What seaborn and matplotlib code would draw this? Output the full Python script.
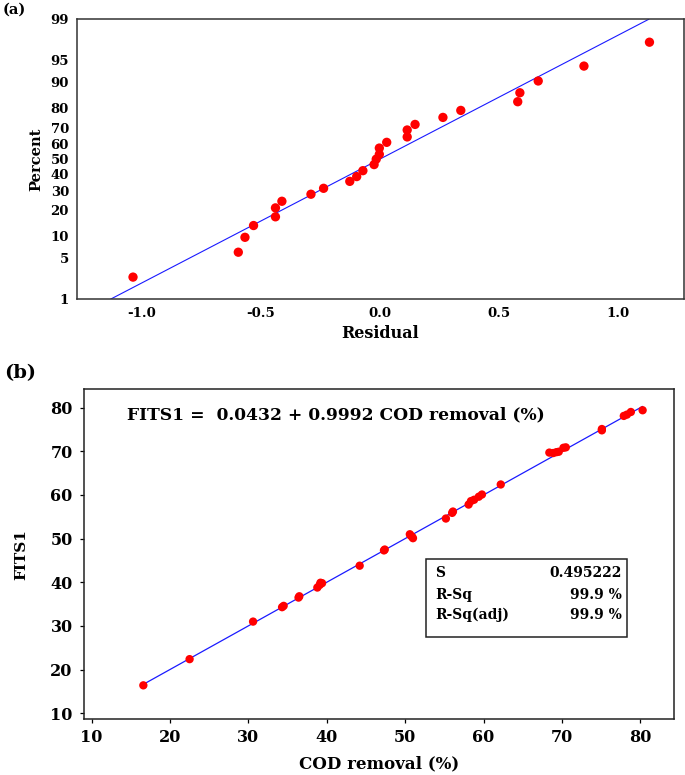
import numpy as np
import pandas as pd
import seaborn as sns
import matplotlib.pyplot as plt
from matplotlib.patches import Rectangle
from statistics import NormalDist

# (a) normal probability plot of residuals
residuals = [-1.036, -0.594, -0.566, -0.530, -0.438, -0.438, -0.411, -0.289, -0.236,
             -0.126, -0.097, -0.071, -0.024, -0.015, -0.002, -0.002, 0.029, 0.115,
             0.115, 0.148, 0.265, 0.340, 0.579, 0.588, 0.665, 0.857, 1.132]
percents = [2.5, 6.1, 9.7, 13.5, 16.9, 20.9, 24.2, 28.0, 31.4, 35.6, 38.6, 42.4,
            46.4, 50.0, 53.2, 57.3, 61.0, 64.4, 68.6, 71.8, 75.6, 79.1, 83.0, 86.5,
            90.3, 93.9, 97.4]
fit_res = [-1.13, 1.13]
fit_pct = [1, 99]
pct_ticks = [1, 5, 10, 20, 30, 40, 50, 60, 70, 80, 90, 95, 99]

# (b) fitted vs observed COD removal
cod = [16.6, 22.5, 30.6, 34.3, 34.5, 36.4, 36.5, 38.8, 39.1, 39.4, 39.2, 44.2,
       47.3, 47.4, 50.6, 50.7, 51.0, 50.9, 55.2, 56.0, 56.1, 58.1, 58.4, 58.8,
       59.4, 59.8, 62.2, 68.4, 68.9, 69.3, 69.6, 70.2, 70.5, 75.1, 75.1, 77.9,
       78.3, 78.8, 80.3]
fits = [16.4, 22.4, 31.0, 34.3, 34.6, 36.5, 36.8, 38.8, 39.4, 39.8, 39.9, 43.8,
        47.3, 47.5, 51.0, 50.7, 50.1, 50.4, 54.6, 55.9, 56.2, 57.8, 58.6, 58.9,
        59.6, 60.1, 62.4, 69.7, 69.6, 69.8, 69.9, 70.8, 70.9, 74.8, 75.1, 78.1,
        78.4, 79.0, 79.4]
intercept = 0.0432
slope = 0.9992
stat_names = ["S", "R-Sq", "R-Sq(adj)"]
stat_values = ["0.495222", "99.9 %", "99.9 %"]

sns.set_theme(style="ticks")
plt.rcParams['font.family'] = ['DejaVu Serif']
plt.rcParams['font.weight'] = 'bold'
for key in ['text.color', 'axes.labelcolor', 'xtick.color', 'ytick.color']:
    plt.rcParams[key] = 'black'

_nd = NormalDist()


def _ppf(v):
    if not np.isfinite(v):
        return np.nan
    v = min(max(v, 1e-6), 100 - 1e-6)
    return _nd.inv_cdf(v / 100.0)


def _cdf(v):
    if not np.isfinite(v):
        return np.nan
    return _nd.cdf(v) * 100.0


# normal probability axis
_fwd = np.vectorize(_ppf, otypes=[float])
_inv = np.vectorize(_cdf, otypes=[float])

fig = plt.figure(figsize=(6.85, 7.75), dpi=100)
ax1 = fig.add_axes([0.1128, 0.614, 0.8854, 0.3613])
ax2 = fig.add_axes([0.1223, 0.0723, 0.8616, 0.4254])

# panel a
ax1.set_yscale('function', functions=(_fwd, _inv))
df_a = pd.DataFrame({"Residual": residuals, "Percent": percents})
sns.lineplot(x=fit_res, y=fit_pct, ax=ax1, color="#1a1aff", linewidth=0.8)
sns.scatterplot(data=df_a, x="Residual", y="Percent", ax=ax1, color="red",
                s=45, edgecolor="none", zorder=3)
ax1.set_xlim(-1.270, 1.276)
ax1.set_ylim(1, 99)
ax1.set_yticks(pct_ticks)
ax1.set_yticklabels([str(t) for t in pct_ticks])
ax1.yaxis.set_minor_locator(plt.NullLocator())
ax1.set_xticks([-1.0, -0.5, 0.0, 0.5, 1.0])
ax1.set_xticklabels(["-1.0", "-0.5", "0.0", "0.5", "1.0"])
ax1.tick_params(labelsize=9.5, length=0, pad=6)
ax1.set_xlabel("Residual", fontsize=11.5, fontweight="bold", labelpad=3)
ax1.set_ylabel("Percent", fontsize=10.5, fontweight="bold", labelpad=5)
for sp in ax1.spines.values():
    sp.set_visible(True)
    sp.set_linewidth(1.1)
    sp.set_color("#333333")
fig.text(0.004, 0.987, "(a)", fontsize=10.5, fontweight="bold", va="center")

# panel b
df_b = pd.DataFrame({"COD removal (%)": cod, "FITS1": fits})
line_x = [min(cod), max(cod)]
line_y = [intercept + slope * v for v in line_x]
sns.lineplot(x=line_x, y=line_y, ax=ax2, color="#1a1aff", linewidth=0.9)
sns.scatterplot(data=df_b, x="COD removal (%)", y="FITS1", ax=ax2, color="red",
                s=36, edgecolor="none", zorder=3)
ax2.set_xlim(9.0, 84.3)
ax2.set_ylim(8.7, 84.2)
ax2.set_xticks(range(10, 81, 10))
ax2.set_yticks(range(10, 81, 10))
ax2.tick_params(labelsize=11.5, length=3, width=0.9, pad=4)
ax2.tick_params(axis="y", pad=5)
ax2.set_xlabel("COD removal (%)", fontsize=12, fontweight="bold", labelpad=7)
ax2.set_ylabel("FITS1", fontsize=11, fontweight="bold", labelpad=16)
for sp in ax2.spines.values():
    sp.set_visible(True)
    sp.set_linewidth(1.1)
    sp.set_color("#222222")
ax2.text(14.5, 78.3, "FITS1 =  0.0432 + 0.9992 COD removal (%)", fontsize=12.3,
         fontweight="bold", va="center", ha="left")
ax2.add_patch(Rectangle((52.65, 27.5), 78.3 - 52.65, 45.3 - 27.5, fill=False,
                        edgecolor="#222222", linewidth=1.1, zorder=4))
for i, (nm, val) in enumerate(zip(stat_names, stat_values)):
    yy = [42.1, 37.1, 32.5][i]
    ax2.text(53.8, yy, nm, fontsize=10, fontweight="bold", va="center", ha="left")
    ax2.text(77.6, yy, val, fontsize=10, fontweight="bold", va="center", ha="right")
fig.text(0.006, 0.519, "(b)", fontsize=14, fontweight="bold", va="center")

fig.savefig("out.png", dpi=100)
